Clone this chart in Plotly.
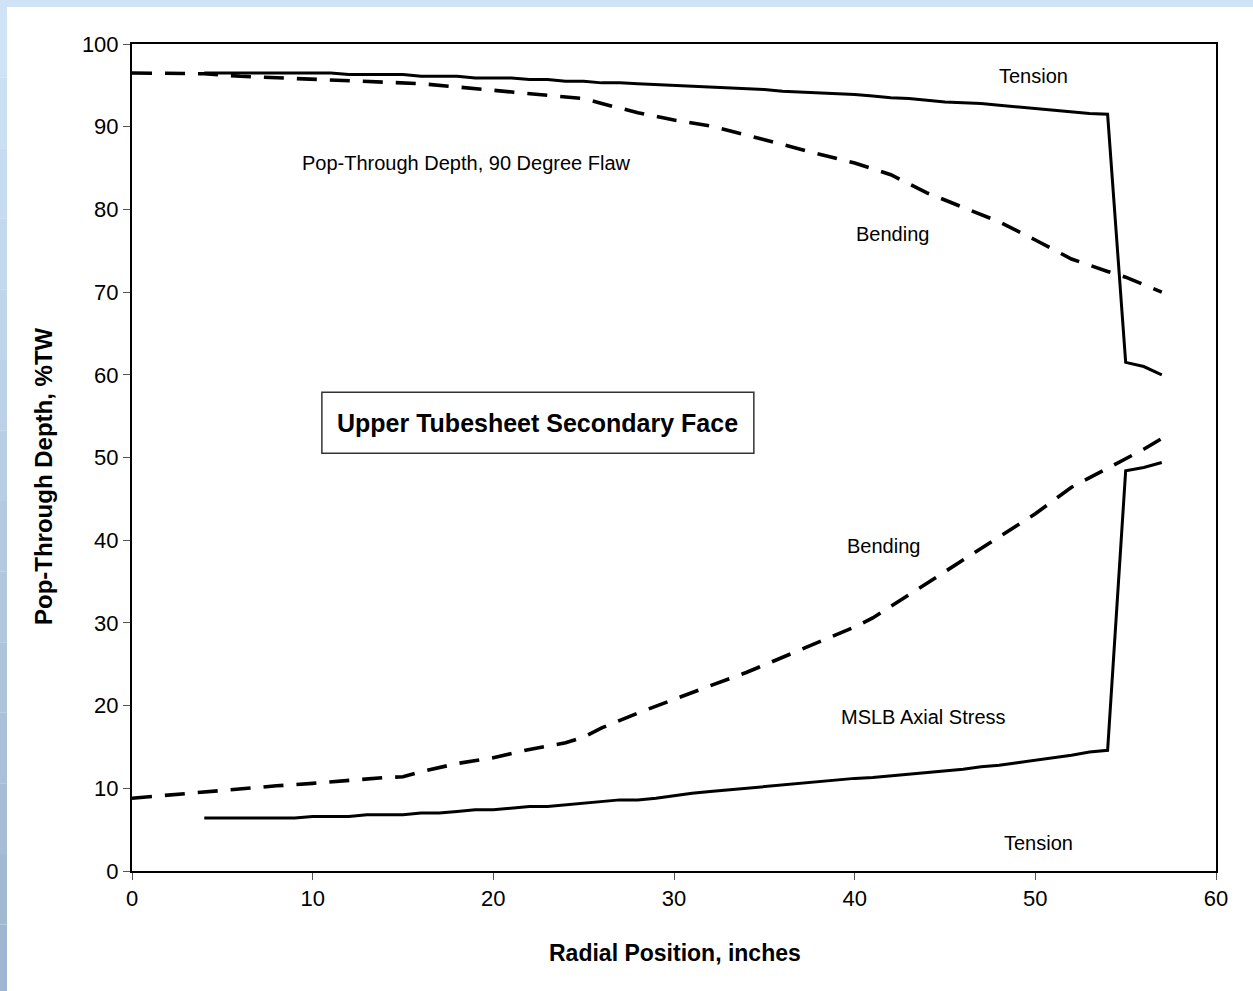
import plotly.graph_objects as go

# ---------------- data ----------------
tension_upper_x = list(range(4, 58))
tension_upper_y = [96.5, 96.5, 96.5, 96.5, 96.5, 96.5, 96.5, 96.5,  # 4-11
                   96.3, 96.3, 96.3, 96.3,                          # 12-15
                   96.1, 96.1, 96.1,                                # 16-18
                   95.9, 95.9, 95.9,                                # 19-21
                   95.7, 95.7, 95.5, 95.5, 95.3, 95.3, 95.2, 95.1,  # 22-29
                   95.0, 94.9, 94.8, 94.7, 94.6, 94.5, 94.3, 94.2,  # 30-37
                   94.1, 94.0, 93.9, 93.7, 93.5, 93.4, 93.2, 93.0,  # 38-45
                   92.9, 92.8, 92.6, 92.4, 92.2, 92.0, 91.8, 91.6,  # 46-53
                   91.5, 61.5, 61.0, 60.0]                          # 54-57

bending_upper_x = [0, 2, 4, 6, 8, 10, 12, 14, 16, 18, 20, 22, 24, 25, 26, 28,
                   30, 32, 34, 36, 38, 40, 42, 44, 46, 48, 50, 52, 54, 55, 57]
bending_upper_y = [96.5, 96.5, 96.4, 96.1, 95.9, 95.8, 95.6, 95.4, 95.2, 94.8,
                   94.4, 94.1, 93.7, 93.4, 92.8, 91.7, 90.8, 90.1, 89.0, 87.8,
                   86.7, 85.6, 84.2, 82.0, 80.3, 78.5, 76.3, 74.0, 72.5, 71.8, 70.0]

bending_lower_x = [0, 2, 4, 6, 8, 10, 12, 14, 15, 16, 18, 20, 22, 24, 25, 26,
                   28, 30, 32, 34, 36, 38, 40, 41, 42, 44, 46, 48, 50, 52, 54,
                   55, 56, 57]
bending_lower_y = [8.8, 9.2, 9.6, 9.95, 10.3, 10.6, 11.0, 11.3, 11.4, 12.0,
                   13.0, 13.7, 14.7, 15.5, 16.2, 17.3, 19.1, 20.8, 22.4, 24.0,
                   25.8, 27.6, 29.5, 30.6, 32.0, 34.8, 37.6, 40.3, 43.2, 46.4,
                   48.7, 49.8, 51.0, 52.3]

tension_lower_x = list(range(4, 58))
tension_lower_y = [6.4, 6.4, 6.4, 6.4, 6.4, 6.4,                    # 4-9
                   6.6, 6.6, 6.6, 6.8, 6.8, 6.8, 7.0, 7.0,          # 10-17
                   7.2, 7.4, 7.4, 7.6, 7.8, 7.8, 8.0, 8.2,          # 18-25
                   8.4, 8.6, 8.6, 8.8, 9.1, 9.4, 9.6, 9.8,          # 26-33
                   10.0, 10.2, 10.4, 10.6, 10.8, 11.0, 11.2, 11.3,  # 34-41
                   11.5, 11.7, 11.9, 12.1, 12.3, 12.6, 12.8, 13.1,  # 42-49
                   13.4, 13.7, 14.0, 14.4, 14.6, 48.4, 48.8, 49.4]  # 50-57

x_ticks = [0, 10, 20, 30, 40, 50, 60]
y_ticks = [0, 10, 20, 30, 40, 50, 60, 70, 80, 90, 100]

labels = ["Tension", "Pop-Through Depth, 90 Degree Flaw", "Bending", "Bending",
          "MSLB Axial Stress", "Tension"]
label_x = [49.9, 18.5, 42.1, 41.6, 43.8, 50.2]
label_y = [96.1, 85.6, 77.0, 39.3, 18.6, 3.4]

box_title = "Upper Tubesheet Secondary Face"
x_title = "Radial Position, inches"
y_title = "Pop-Through Depth, %TW"

FONT = "Liberation Sans, Arial, sans-serif"

fig = go.Figure()
solid = dict(color="black", width=3)
dashed = dict(color="black", width=3.6, dash="20px,13px")
fig.add_trace(go.Scatter(x=tension_upper_x, y=tension_upper_y, mode="lines", line=solid))
fig.add_trace(go.Scatter(x=bending_upper_x, y=bending_upper_y, mode="lines", line=dashed))
fig.add_trace(go.Scatter(x=bending_lower_x, y=bending_lower_y, mode="lines", line=dashed))
fig.add_trace(go.Scatter(x=tension_lower_x, y=tension_lower_y, mode="lines", line=solid))

for t, xx, yy in zip(labels, label_x, label_y):
    fig.add_annotation(x=xx, y=yy, text=t, showarrow=False,
                       font=dict(family=FONT, size=20, color="black"))

# boxed title
fig.add_shape(type="rect", xref="x", yref="y", x0=10.51, x1=34.42, y0=50.5, y1=57.9,
              line=dict(color="#333333", width=1.5), fillcolor="white", layer="below")
fig.add_annotation(x=22.47, y=54.2, text="<b>" + box_title + "</b>", showarrow=False,
                   font=dict(family=FONT, size=25, color="black"))

# axis titles as annotations (positioned like the original)
fig.add_annotation(xref="paper", yref="paper", x=0.5009, y=-0.0992,
                   xanchor="center", yanchor="middle",
                   text="<b>" + x_title + "</b>", showarrow=False,
                   font=dict(family=FONT, size=23, color="black"))
fig.add_annotation(xref="paper", yref="paper", x=-0.0821, y=0.4776, textangle=-90,
                   xanchor="center", yanchor="middle",
                   text="<b>" + y_title + "</b>", showarrow=False,
                   font=dict(family=FONT, size=24, color="black"))

# light blue frame at top and left edges
fig.add_shape(type="rect", xref="paper", yref="paper", x0=-0.13, x1=1.1,
              y0=1.0447, y1=1.06, line=dict(width=0), fillcolor="#cfe2f6", layer="below")
n = 14
top_c = (207, 226, 246)
bot_c = (158, 182, 207)
for i in range(n):
    f = i / (n - 1)
    c = tuple(int(round(top_c[k] + (bot_c[k] - top_c[k]) * f)) for k in range(3))
    ytop = 1.0447 - (1.0447 + 0.15) * i / n
    ybot = 1.0447 - (1.0447 + 0.15) * (i + 1) / n
    fig.add_shape(type="rect", xref="paper", yref="paper", x0=-0.13, x1=-0.1153,
                  y0=ybot, y1=ytop, line=dict(width=0),
                  fillcolor="rgb(%d,%d,%d)" % c, layer="below")

axis_common = dict(showgrid=False, zeroline=False, showline=True, linecolor="black",
                   linewidth=2, mirror=True, ticks="outside", ticklen=7, tickwidth=1,
                   tickcolor="#555555",
                   tickfont=dict(family=FONT, size=22, color="black"))
fig.update_xaxes(range=[0, 60], tickvals=x_ticks, **axis_common)
fig.update_yaxes(range=[0, 100], tickvals=y_ticks, **axis_common)

fig.update_layout(width=1253, height=991, showlegend=False,
                  paper_bgcolor="white", plot_bgcolor="white",
                  margin=dict(l=132, r=37, t=44, b=120))

fig.write_html("out.html")
